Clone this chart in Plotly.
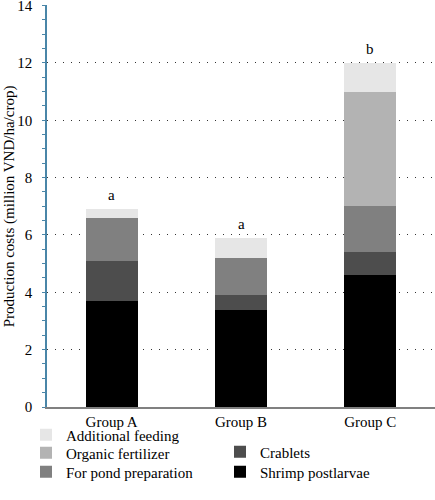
import plotly.graph_objects as go

# data
groups = ["Group A", "Group B", "Group C"]
shrimp_postlarvae = [3.7, 3.4, 4.6]
crablets = [1.4, 0.5, 0.8]
pond_preparation = [1.5, 1.3, 1.6]
organic_fertilizer = [0.0, 0.0, 4.0]
additional_feeding = [0.3, 0.7, 1.0]
letters = ["a", "a", "b"]

# series drawn bottom-up: (name, values, colour)
series = [
    ("Shrimp postlarvae", shrimp_postlarvae, "#000000"),
    ("Crablets", crablets, "#4d4d4d"),
    ("For pond preparation", pond_preparation, "#808080"),
    ("Organic fertilizer", organic_fertilizer, "#b3b3b3"),
    ("Additional feeding", additional_feeding, "#e6e6e6"),
]
# one small legend per entry, (x px, y px) in the 435x500 frame
leg_pos = [(220, 472), (220, 452), (26, 472), (26, 453), (26, 435)]

font = "Liberation Serif"
W, H = 435, 500

fig = go.Figure()
legends = {}
for i, ((name, vals, col), (lx, ly)) in enumerate(zip(series, leg_pos)):
    key = "legend%d" % (i + 2)
    fig.add_trace(go.Bar(x=groups, y=vals, name=name, marker=dict(color=col, line=dict(width=0)),
                         legend=key))
    legends[key] = dict(xref="container", yref="container", x=lx / W, y=1 - ly / H,
                        xanchor="left", yanchor="middle", bgcolor="rgba(0,0,0,0)",
                        font=dict(size=15), itemwidth=30)

totals = [sum(v) for v in zip(*[s[1] for s in series])]
for g, t, lab in zip(groups, totals, letters):
    fig.add_annotation(x=g, y=t, text=lab, showarrow=False, yshift=14,
                       font=dict(family=font, size=15, color="black"))

# y-axis title as a rotated annotation (axis title misbehaves with fixed margins)
fig.add_annotation(text="Production costs (million VND/ha/crop)", xref="paper", yref="paper",
                   x=-0.097, y=0.5, textangle=-90, showarrow=False, xanchor="center", yanchor="middle",
                   font=dict(family=font, size=15, color="black"))

fig.update_layout(
    width=W, height=H,
    barmode="stack", bargap=0.6,
    plot_bgcolor="white", paper_bgcolor="white",
    margin=dict(l=47, r=0, t=5, b=93, autoexpand=False),
    font=dict(family=font, size=15, color="black"),
    **legends,
)
fig.update_xaxes(showline=True, linecolor="#808080", linewidth=1.5, ticks="",
                 showgrid=False, tickfont=dict(size=15))
fig.update_yaxes(range=[0, 14.02], dtick=2, showline=True, linecolor="#4a86a8", linewidth=1.5,
                 ticks="outside", ticklen=3, tickcolor="#4a86a8", ticklabelstandoff=7,
                 minor=dict(dtick=0.5, ticks="outside", ticklen=3, tickcolor="#4a86a8", showgrid=False),
                 showgrid=True, gridcolor="#333333", griddash="1px,7px", gridwidth=1,
                 zeroline=False, tickfont=dict(size=15), ticklabeloverflow="allow")

fig.write_html("out.html", config={"displayModeBar": False},
               post_script="document.body.style.margin='0';")
